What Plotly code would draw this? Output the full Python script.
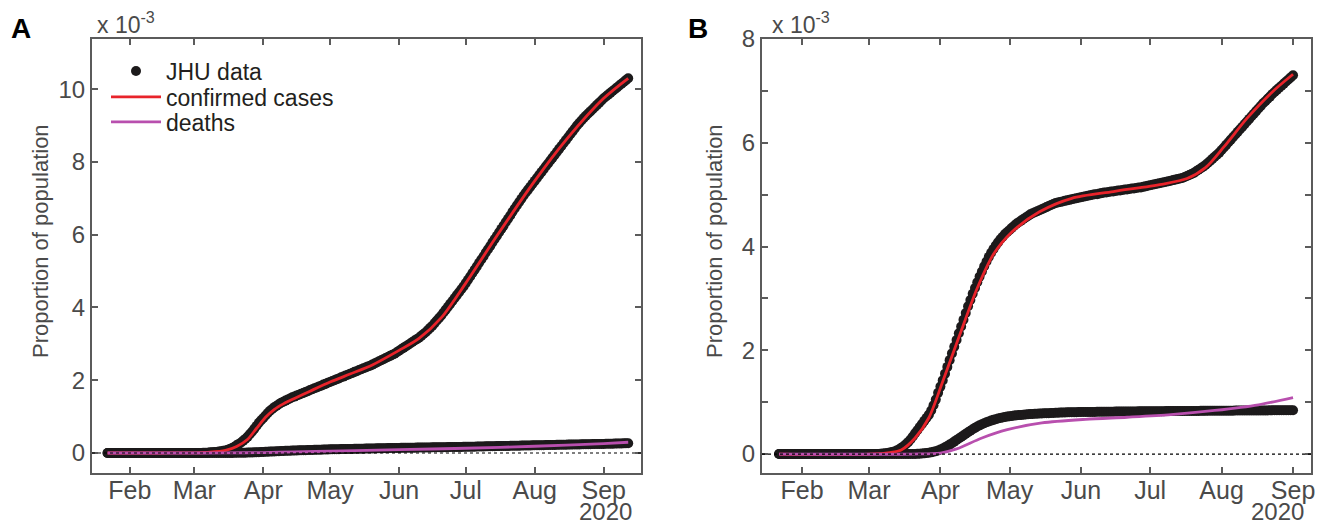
import pandas as pd
import plotly.graph_objects as go

# ---------------- data (proportion of population, in units of 1e-3) ----------------
A_START = "2020-01-22"
B_START = "2020-01-22"

Z10 = [0.0] * 10   # Jan 22-31
Z29 = [0.0] * 29   # Feb

# Panel A, JHU confirmed cases (daily, Jan 22 - Sep 12)
a_cases_mar = [0.00, 0.00, 0.00, 0.00, 0.01, 0.01, 0.01, 0.02, 0.02, 0.03,
               0.03, 0.04, 0.05, 0.06, 0.07, 0.09, 0.11, 0.14, 0.17, 0.21,
               0.25, 0.29, 0.34, 0.39, 0.45, 0.52, 0.59, 0.67, 0.75, 0.83, 0.90]
a_cases_apr = [0.96, 1.03, 1.10, 1.16, 1.21, 1.26, 1.30, 1.34, 1.38, 1.41,
               1.44, 1.47, 1.50, 1.53, 1.55, 1.58, 1.60, 1.63, 1.65, 1.68,
               1.70, 1.73, 1.75, 1.78, 1.80, 1.83, 1.85, 1.88, 1.90, 1.93]
a_cases_may = [1.95, 1.98, 2.00, 2.03, 2.05, 2.08, 2.10, 2.13, 2.15, 2.18,
               2.20, 2.23, 2.25, 2.28, 2.30, 2.33, 2.35, 2.38, 2.40, 2.43,
               2.46, 2.49, 2.52, 2.55, 2.58, 2.61, 2.64, 2.67, 2.70, 2.73, 2.77]
a_cases_jun = [2.81, 2.85, 2.89, 2.93, 2.97, 3.01, 3.05, 3.09, 3.13, 3.17,
               3.22, 3.27, 3.32, 3.38, 3.44, 3.50, 3.57, 3.64, 3.71, 3.78,
               3.86, 3.94, 4.02, 4.10, 4.18, 4.26, 4.34, 4.42, 4.50, 4.58]
a_cases_jul = [4.67, 4.76, 4.85, 4.95, 5.04, 5.13, 5.23, 5.32, 5.41, 5.51,
               5.60, 5.69, 5.79, 5.88, 5.97, 6.07, 6.16, 6.25, 6.35, 6.44,
               6.53, 6.63, 6.72, 6.81, 6.90, 6.99, 7.08, 7.16, 7.24, 7.32, 7.40]
a_cases_aug = [7.48, 7.56, 7.64, 7.72, 7.80, 7.88, 7.96, 8.04, 8.12, 8.20,
               8.28, 8.36, 8.44, 8.52, 8.60, 8.68, 8.76, 8.84, 8.92, 9.00,
               9.07, 9.14, 9.21, 9.27, 9.33, 9.39, 9.45, 9.51, 9.57, 9.63, 9.69]
a_cases_sep = [9.75, 9.80, 9.85, 9.90, 9.95, 10.00, 10.05, 10.10, 10.15, 10.20, 10.25, 10.30]

# Panel A, JHU deaths (daily)
a_deaths_mar = [0.0] * 14 + [0.001, 0.002, 0.002, 0.003, 0.004, 0.005, 0.006, 0.007, 0.008,
                             0.010, 0.012, 0.014, 0.016, 0.018, 0.020, 0.023, 0.026]
a_deaths_apr = [0.029, 0.032, 0.035, 0.038, 0.041, 0.044, 0.047, 0.050, 0.053, 0.056,
                0.059, 0.062, 0.064, 0.066, 0.068, 0.070, 0.072, 0.074, 0.076, 0.078,
                0.080, 0.082, 0.084, 0.086, 0.088, 0.090, 0.092, 0.094, 0.096, 0.098]
a_deaths_may = [0.100, 0.101, 0.103, 0.104, 0.105, 0.107, 0.108, 0.109, 0.110, 0.112,
                0.113, 0.114, 0.116, 0.117, 0.118, 0.120, 0.121, 0.122, 0.123, 0.125,
                0.126, 0.127, 0.129, 0.130, 0.131, 0.133, 0.134, 0.135, 0.136, 0.138, 0.139]
a_deaths_jun = [0.140, 0.141, 0.142, 0.143, 0.144, 0.145, 0.146, 0.147, 0.148, 0.149,
                0.150, 0.151, 0.152, 0.153, 0.154, 0.155, 0.156, 0.157, 0.158, 0.159,
                0.160, 0.161, 0.162, 0.163, 0.164, 0.165, 0.166, 0.167, 0.168, 0.169]
a_deaths_jul = [0.170, 0.171, 0.173, 0.174, 0.175, 0.177, 0.178, 0.179, 0.181, 0.182,
                0.183, 0.185, 0.186, 0.187, 0.189, 0.190, 0.191, 0.193, 0.194, 0.195,
                0.197, 0.198, 0.199, 0.201, 0.202, 0.203, 0.205, 0.206, 0.207, 0.209, 0.210]
a_deaths_aug = [0.211, 0.212, 0.214, 0.215, 0.216, 0.217, 0.219, 0.220, 0.221, 0.222,
                0.224, 0.225, 0.226, 0.227, 0.229, 0.230, 0.231, 0.232, 0.234, 0.235,
                0.236, 0.237, 0.239, 0.240, 0.241, 0.242, 0.244, 0.245, 0.246, 0.247, 0.249]
a_deaths_sep = [0.250, 0.252, 0.253, 0.255, 0.257, 0.258, 0.260, 0.262, 0.263, 0.265, 0.267, 0.268]

# Panel A model fits
a_fit_dates = ["2020-01-22", "2020-02-15", "2020-03-01", "2020-03-08", "2020-03-15", "2020-03-20",
               "2020-03-25", "2020-03-29", "2020-04-02", "2020-04-06", "2020-04-10", "2020-04-15",
               "2020-04-22", "2020-05-01", "2020-05-10", "2020-05-20", "2020-06-01", "2020-06-10",
               "2020-06-20", "2020-07-01", "2020-07-15", "2020-08-01", "2020-08-15", "2020-09-01",
               "2020-09-12"]
a_fit_cases = [0.0, 0.0, 0.005, 0.02, 0.07, 0.18, 0.38, 0.68, 0.98, 1.20, 1.35, 1.50,
               1.70, 1.95, 2.17, 2.42, 2.82, 3.15, 3.72, 4.67, 5.97, 7.48, 8.60, 9.75, 10.30]
a_fitd_dates = ["2020-01-22", "2020-03-01", "2020-03-15", "2020-04-01", "2020-04-15", "2020-05-01",
                "2020-06-01", "2020-07-01", "2020-08-01", "2020-09-01", "2020-09-12"]
a_fit_deaths = [0.0, 0.0, 0.002, 0.012, 0.030, 0.050, 0.090, 0.130, 0.185, 0.260, 0.295]

# Panel B, JHU confirmed cases (daily, Jan 22 - Sep 1)
b_cases_mar = [0.0, 0.0, 0.0, 0.0, 0.0, 0.005, 0.01, 0.015, 0.02, 0.03,
               0.04, 0.05, 0.07, 0.09, 0.12, 0.15, 0.19, 0.23, 0.28, 0.34,
               0.40, 0.46, 0.52, 0.58, 0.64, 0.70, 0.76, 0.84, 0.94, 1.05, 1.18]
b_cases_apr = [1.30, 1.42, 1.55, 1.68, 1.81, 1.94, 2.07, 2.20, 2.33, 2.46,
               2.59, 2.72, 2.85, 2.97, 3.09, 3.20, 3.31, 3.42, 3.52, 3.62,
               3.71, 3.80, 3.88, 3.95, 4.02, 4.08, 4.14, 4.19, 4.24, 4.28]
b_cases_may = [4.32, 4.36, 4.40, 4.44, 4.47, 4.50, 4.53, 4.56, 4.59, 4.62,
               4.64, 4.66, 4.68, 4.70, 4.72, 4.74, 4.76, 4.78, 4.80, 4.82,
               4.84, 4.85, 4.86, 4.87, 4.88, 4.89, 4.90, 4.91, 4.92, 4.93, 4.94]
b_cases_jun = [4.95, 4.96, 4.97, 4.98, 4.99, 5.00, 5.01, 5.01, 5.02, 5.03,
               5.04, 5.04, 5.05, 5.06, 5.06, 5.07, 5.08, 5.08, 5.09, 5.10,
               5.10, 5.11, 5.12, 5.12, 5.13, 5.14, 5.14, 5.15, 5.16, 5.17]
b_cases_jul = [5.18, 5.19, 5.20, 5.21, 5.22, 5.23, 5.24, 5.25, 5.26, 5.27,
               5.28, 5.29, 5.30, 5.31, 5.32, 5.34, 5.36, 5.38, 5.40, 5.42,
               5.45, 5.48, 5.51, 5.54, 5.57, 5.61, 5.65, 5.69, 5.73, 5.77, 5.81]
b_cases_aug = [5.86, 5.91, 5.96, 6.01, 6.06, 6.11, 6.16, 6.21, 6.26, 6.31,
               6.36, 6.41, 6.46, 6.51, 6.56, 6.61, 6.66, 6.71, 6.76, 6.80,
               6.85, 6.89, 6.94, 6.98, 7.02, 7.06, 7.10, 7.14, 7.18, 7.22, 7.26]
b_cases_sep = [7.30]

# Panel B, JHU deaths (daily)
b_deaths_mar = [0.0] * 20 + [0.002, 0.004, 0.007, 0.010, 0.014, 0.019, 0.025, 0.033, 0.043, 0.055, 0.070]
b_deaths_apr = [0.088, 0.108, 0.130, 0.155, 0.182, 0.210, 0.240, 0.270, 0.300, 0.330,
                0.360, 0.390, 0.420, 0.450, 0.478, 0.505, 0.530, 0.553, 0.575, 0.595,
                0.613, 0.630, 0.645, 0.659, 0.672, 0.684, 0.695, 0.705, 0.714, 0.722]
b_deaths_may = [0.729, 0.735, 0.741, 0.746, 0.751, 0.755, 0.759, 0.763, 0.767, 0.770,
                0.773, 0.776, 0.779, 0.781, 0.783, 0.785, 0.787, 0.789, 0.791, 0.793,
                0.795, 0.797, 0.799, 0.801, 0.803, 0.804, 0.805, 0.806, 0.807, 0.808, 0.809]
b_deaths_jun = [0.810, 0.811, 0.811, 0.812, 0.812, 0.813, 0.813, 0.814, 0.814, 0.815,
                0.815, 0.816, 0.816, 0.817, 0.817, 0.818, 0.818, 0.819, 0.819, 0.820,
                0.820, 0.821, 0.821, 0.822, 0.822, 0.823, 0.823, 0.824, 0.824, 0.825]
b_deaths_jul = [0.825, 0.826, 0.826, 0.826, 0.827, 0.827, 0.827, 0.828, 0.828, 0.828,
                0.829, 0.829, 0.829, 0.830, 0.830, 0.830, 0.831, 0.831, 0.831, 0.832,
                0.832, 0.832, 0.833, 0.833, 0.833, 0.834, 0.834, 0.834, 0.835, 0.835, 0.835]
b_deaths_aug = [0.836, 0.836, 0.836, 0.837, 0.837, 0.837, 0.838, 0.838, 0.838, 0.839,
                0.839, 0.839, 0.840, 0.840, 0.840, 0.841, 0.841, 0.841, 0.842, 0.842,
                0.842, 0.843, 0.843, 0.843, 0.844, 0.844, 0.844, 0.845, 0.845, 0.845, 0.846]
b_deaths_sep = [0.846]

# Panel B model fits
b_fit_dates = ["2020-01-22", "2020-03-01", "2020-03-10", "2020-03-15", "2020-03-21", "2020-03-27",
               "2020-04-02", "2020-04-09", "2020-04-17", "2020-04-24", "2020-05-02", "2020-05-14",
               "2020-05-28", "2020-06-15", "2020-07-06", "2020-07-17", "2020-07-25", "2020-08-02",
               "2020-08-12", "2020-08-23", "2020-09-01"]
b_fit_cases = [0.0, 0.0, 0.03, 0.08, 0.31, 0.70, 1.40, 2.25, 3.20, 3.85, 4.28, 4.67,
               4.93, 5.06, 5.20, 5.31, 5.52, 5.92, 6.47, 6.98, 7.32]
b_fitd_dates = ["2020-01-22", "2020-03-20", "2020-04-01", "2020-04-08", "2020-04-19", "2020-04-30",
                "2020-05-15", "2020-06-03", "2020-06-21", "2020-07-10", "2020-07-29", "2020-08-17",
                "2020-09-01"]
b_fit_deaths = [0.0, 0.0, 0.02, 0.10, 0.31, 0.47, 0.60, 0.67, 0.71, 0.76, 0.84, 0.95, 1.09]

month_ticks = ["2020-02-01", "2020-03-01", "2020-04-01", "2020-05-01",
               "2020-06-01", "2020-07-01", "2020-08-01", "2020-09-01"]
month_labels = ["Feb", "Mar", "Apr", "May", "Jun", "Jul", "Aug", "Sep"]

# ---------------- assemble series ----------------
a_cases = Z10 + Z29 + a_cases_mar + a_cases_apr + a_cases_may + a_cases_jun + a_cases_jul + a_cases_aug + a_cases_sep
a_deaths = Z10 + Z29 + a_deaths_mar + a_deaths_apr + a_deaths_may + a_deaths_jun + a_deaths_jul + a_deaths_aug + a_deaths_sep
b_cases = Z10 + Z29 + b_cases_mar + b_cases_apr + b_cases_may + b_cases_jun + b_cases_jul + b_cases_aug + b_cases_sep
b_deaths = Z10 + Z29 + b_deaths_mar + b_deaths_apr + b_deaths_may + b_deaths_jun + b_deaths_jul + b_deaths_aug + b_deaths_sep

a_dates = pd.date_range(A_START, periods=len(a_cases), freq="D")
b_dates = pd.date_range(B_START, periods=len(b_cases), freq="D")

# the page body adds an 8px offset; the figure fills the rest of the window
OFF = 8
W, H = 1327 - OFF, 523 - OFF
DOT = "#1c1a1b"
RED = "#e8232a"
MAG = "#b84fae"
AX = "#5b5b5b"
TXT = "#4a4a4a"
FONT = "Liberation Sans, Arial, Helvetica, sans-serif"

fig = go.Figure()

def add_panel(xa, ya, dates, cases, deaths, fdates, fcases, fddates, fdeaths, legend):
    fig.add_trace(go.Scatter(x=dates, y=cases, mode="markers", name="JHU data",
                             marker=dict(color=DOT, size=10), xaxis=xa, yaxis=ya,
                             showlegend=legend, legend="legend"))
    fig.add_trace(go.Scatter(x=dates, y=deaths, mode="markers", name="JHU data",
                             marker=dict(color=DOT, size=10), xaxis=xa, yaxis=ya,
                             showlegend=False))
    fig.add_trace(go.Scatter(x=fdates, y=fcases, mode="lines", name="confirmed cases",
                             line=dict(color=RED, width=2.8, shape="spline", smoothing=0.8),
                             xaxis=xa, yaxis=ya, showlegend=legend, legend="legend2"))
    fig.add_trace(go.Scatter(x=fddates, y=fdeaths, mode="lines", name="deaths",
                             line=dict(color=MAG, width=2.8, shape="spline", smoothing=0.8),
                             xaxis=xa, yaxis=ya, showlegend=legend, legend="legend3"))

add_panel("x", "y", a_dates, a_cases, a_deaths, a_fit_dates, a_fit_cases,
          a_fitd_dates, a_fit_deaths, True)
add_panel("x2", "y2", b_dates, b_cases, b_deaths, b_fit_dates, b_fit_cases,
          b_fitd_dates, b_fit_deaths, False)

def px_x(p):
    return (p - OFF) / W

def px_y(p):
    return 1 - (p - OFF) / H

common_x = dict(type="date", tickmode="array", tickvals=month_ticks, ticktext=month_labels,
                ticks="inside", ticklen=6, tickwidth=1.5, tickcolor=AX,
                showline=True, linecolor=AX, linewidth=2, mirror="ticks",
                showgrid=False, zeroline=False, automargin=False,
                tickfont=dict(family=FONT, size=25, color=TXT), ticklabelstandoff=-6)
common_y = dict(ticks="inside", ticklen=6, tickwidth=1.5, tickcolor=AX,
                showline=True, linecolor=AX, linewidth=2, mirror="ticks",
                showgrid=False, zeroline=False, automargin=False,
                tickfont=dict(family=FONT, size=24, color=TXT), ticklabelstandoff=0)

legend_common = dict(xanchor="left", yanchor="middle", bgcolor="rgba(0,0,0,0)",
                     itemwidth=50, font=dict(family=FONT, size=23, color="#231f20"))

fig.update_layout(
    width=W, height=H,
    margin=dict(l=0, r=0, t=0, b=0, autoexpand=False),
    paper_bgcolor="white", plot_bgcolor="white",
    xaxis=dict(common_x, domain=[px_x(92), px_x(641)], anchor="y",
               range=["2020-01-15", "2020-09-17 18:00"]),
    yaxis=dict(common_y, domain=[px_y(473), px_y(39)], anchor="x",
               range=[-0.55, 11.38], tickvals=[0, 2, 4, 6, 8, 10]),
    xaxis2=dict(common_x, domain=[px_x(762), px_x(1311)], anchor="y2",
                range=["2020-01-14 14:00", "2020-09-08 19:00"]),
    yaxis2=dict(common_y, domain=[px_y(473), px_y(39)], anchor="x2",
                range=[-0.365, 8.0], dtick=2, tick0=0,
                minor=dict(dtick=1, tick0=0, ticks="inside", ticklen=6,
                           tickwidth=1.5, tickcolor=AX, showgrid=False)),
    legend=dict(legend_common, x=px_x(106), y=px_y(71)),
    legend2=dict(legend_common, x=px_x(106), y=px_y(97)),
    legend3=dict(legend_common, x=px_x(106), y=px_y(122)),
    showlegend=True,
)

# dotted zero reference lines
for xr, yr in (("x domain", "y"), ("x2 domain", "y2")):
    fig.add_shape(type="line", xref=xr, yref=yr, x0=0, x1=1, y0=0, y1=0,
                  line=dict(color="black", width=1.2, dash="dot"), layer="above")

ann = []
for label, xpx in (("A", 21), ("B", 698)):
    ann.append(dict(text=f"<b>{label}</b>", x=px_x(xpx), y=px_y(29), xref="paper", yref="paper",
                    xanchor="center", yanchor="middle", showarrow=False,
                    font=dict(family=FONT, size=28, color="black")))
for xpx in (95, 770):
    ann.append(dict(text="x 10<sup>-3</sup>", x=px_x(xpx), y=px_y(40), xref="paper", yref="paper",
                    xanchor="left", yanchor="bottom", showarrow=False,
                    font=dict(family=FONT, size=23, color=TXT)))
for xpx in (634, 1306):
    ann.append(dict(text="2020", x=px_x(xpx), y=px_y(511), xref="paper", yref="paper",
                    xanchor="right", yanchor="middle", showarrow=False,
                    font=dict(family=FONT, size=24, color=TXT)))
for xpx in (40, 714):
    ann.append(dict(text="Proportion of population", x=px_x(xpx), y=px_y(241),
                    xref="paper", yref="paper", xanchor="center", yanchor="middle",
                    textangle=-90, showarrow=False,
                    font=dict(family=FONT, size=22, color=TXT)))
fig.update_layout(annotations=ann)

fig.write_html("out.html")
